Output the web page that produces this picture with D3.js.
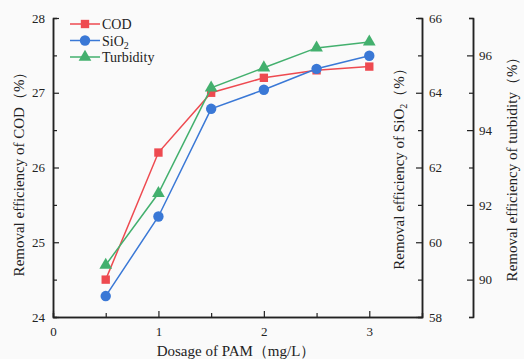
<!DOCTYPE html>
<html>
<head>
<meta charset="utf-8">
<script src="https://cdn.jsdelivr.net/npm/d3@7"></script>
<style>
  body { margin: 0; background: #fafafa; }
  text { font-family: "Liberation Serif", "Times New Roman", serif; fill: #222; }
</style>
</head>
<body>
<div id="graf"></div>
<script>
// Data
const dosage = [0.5, 1, 1.5, 2, 2.5, 3];
const codVals = [24.5, 26.2, 27.0, 27.2, 27.3, 27.35];
const sioVals = [58.56, 60.69, 63.57, 64.08, 64.64, 64.99];
const turbVals = [90.39, 92.31, 95.13, 95.67, 96.2, 96.36];
const seriesNames = ["COD", "SiO2", "Turbidity"];
const codTicks = [24, 25, 26, 27, 28];
const sioTicks = [58, 60, 62, 64, 66];
const turbTicks = [90, 92, 94, 96];
const xTicks = [0, 1, 2, 3];

const svg = d3.select("#graf")
  .append("svg")
  .attr("width", 524)
  .attr("height", 359);

const margin = { top: 18, left: 53, bottom: 42, right: 102 };
const width = 524 - margin.left - margin.right;
const height = 359 - margin.top - margin.bottom;

const chart = svg.append("g")
  .attr("transform", `translate(${margin.left},${margin.top})`);

const xScale = d3.scaleLinear().domain([0, 3.5]).range([0, width]);
const yCod = d3.scaleLinear().domain([24, 28]).range([height, 0]);
const ySio = d3.scaleLinear().domain([58, 66]).range([height, 0]);
const yTurb = d3.scaleLinear().domain([89, 97]).range([height, 0]);
const fmt = d3.format("d");

function styleAxis(g) {
  g.select(".domain").attr("stroke", "#222").attr("stroke-width", 1.5);
  g.selectAll(".tick line").attr("stroke", "#222").attr("stroke-width", 1.2);
  g.selectAll(".tick text").attr("font-size", 13).attr("fill", "#222")
    .style("font-family", "Liberation Serif, serif");
}

// minor ticks first, then major ones on top
chart.append("g")
  .attr("transform", `translate(0,${height})`)
  .call(d3.axisTop(xScale).tickValues([0.5, 1.5, 2.5]).tickSize(4).tickFormat(""))
  .call(styleAxis);
chart.append("g")
  .attr("transform", `translate(0,${height})`)
  .call(d3.axisBottom(xScale).tickValues(xTicks).tickSize(0).tickPadding(10).tickFormat(fmt))
  .call(styleAxis)
  .call(g => g.selectAll(".tick").append("line")
    .attr("y2", -6).attr("stroke", "#222").attr("stroke-width", 1.2));

chart.append("g")
  .call(d3.axisRight(yCod).tickValues([24.5, 25.5, 26.5, 27.5]).tickSize(4).tickFormat(""))
  .call(styleAxis);
chart.append("g")
  .call(d3.axisLeft(yCod).tickValues(codTicks).tickSize(0).tickPadding(8).tickFormat(fmt))
  .call(styleAxis)
  .call(g => g.selectAll(".tick").append("line")
    .attr("x2", 6).attr("stroke", "#222").attr("stroke-width", 1.2));

chart.append("g")
  .attr("transform", `translate(${width},0)`)
  .call(d3.axisLeft(ySio).tickValues([59, 61, 63, 65]).tickSize(4).tickFormat(""))
  .call(styleAxis);
chart.append("g")
  .attr("transform", `translate(${width},0)`)
  .call(d3.axisRight(ySio).tickValues(sioTicks).tickSize(0).tickPadding(7).tickFormat(fmt))
  .call(styleAxis)
  .call(g => g.selectAll(".tick").append("line")
    .attr("x2", -6).attr("stroke", "#222").attr("stroke-width", 1.2));

const turbX = width + 51;
chart.append("g")
  .attr("transform", `translate(${turbX},0)`)
  .call(d3.axisLeft(yTurb).tickValues([89, 91, 93, 95, 97]).tickSize(4).tickFormat(""))
  .call(styleAxis);
chart.append("g")
  .attr("transform", `translate(${turbX},0)`)
  .call(d3.axisRight(yTurb).tickValues(turbTicks).tickSize(0).tickPadding(6).tickFormat(fmt))
  .call(styleAxis)
  .call(g => g.selectAll(".tick").append("line")
    .attr("x2", -6).attr("stroke", "#222").attr("stroke-width", 1.2));

// axis titles
svg.append("text")
  .attr("transform", `translate(24,${margin.top + height / 2 + 3}) rotate(-90)`)
  .attr("text-anchor", "middle").attr("font-size", 15)
  .text("Removal efficiency of COD（%）");

const sioTitle = svg.append("text")
  .attr("transform", `translate(404,${margin.top + height / 2 - 2}) rotate(-90)`)
  .attr("text-anchor", "middle").attr("font-size", 15);
sioTitle.append("tspan").text("Removal efficiency of SiO");
sioTitle.append("tspan").attr("font-size", 10).attr("dy", 3).text("2");
sioTitle.append("tspan").attr("dy", -3).text("（%）");

svg.append("text")
  .attr("transform", `translate(517,${margin.top + height / 2 - 2}) rotate(-90)`)
  .attr("text-anchor", "middle").attr("font-size", 15)
  .text("Removal efficiency of turbidity（%）");

svg.append("text")
  .attr("x", 236).attr("y", 356)
  .attr("text-anchor", "middle").attr("font-size", 15)
  .text("Dosage of PAM（mg/L）");

// series
const series = [
  { name: "COD", vals: codVals, y: yCod, color: "#ee4a50", shape: d3.symbolSquare, size: 70 },
  { name: "SiO2", vals: sioVals, y: ySio, color: "#3a78d6", shape: d3.symbolCircle, size: 85 },
  { name: "Turbidity", vals: turbVals, y: yTurb, color: "#43b06e", shape: d3.symbolTriangle, size: 70 }
];

series.forEach(s => {
  const pts = dosage.map((d, i) => ({ x: d, v: s.vals[i] }));
  const line = d3.line().x(d => xScale(d.x)).y(d => s.y(d.v));
  chart.append("path")
    .datum(pts)
    .attr("fill", "none")
    .attr("stroke", s.color)
    .attr("stroke-width", 1.5)
    .attr("d", line);
  chart.selectAll(null)
    .data(pts)
    .enter()
    .append("path")
    .attr("transform", d => `translate(${xScale(d.x)},${s.y(d.v)})`)
    .attr("d", d3.symbol().type(s.shape).size(s.size))
    .attr("fill", s.color);
});

// legend
const legend = svg.append("g").attr("transform", "translate(70,24)");
series.forEach((s, i) => {
  const row = legend.append("g").attr("transform", `translate(0,${i * 16.5})`);
  row.append("line").attr("x1", 0).attr("x2", 30)
    .attr("stroke", s.color).attr("stroke-width", 1.5);
  row.append("path").attr("transform", "translate(15,0)")
    .attr("d", d3.symbol().type(s.shape).size(s.size)).attr("fill", s.color);
  const t = row.append("text").attr("x", 32).attr("y", 5).attr("font-size", 14);
  if (seriesNames[i] === "SiO2") {
    t.append("tspan").text("SiO");
    t.append("tspan").attr("font-size", 10).attr("dy", 3).text("2");
  } else {
    t.text(seriesNames[i]);
  }
});
</script>
</body>
</html>
